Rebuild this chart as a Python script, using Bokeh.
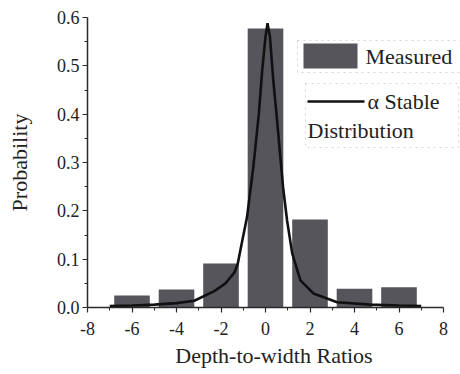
from bokeh.plotting import figure
from bokeh.models import (Range1d, FixedTicker, BoxAnnotation, CustomJSTickFormatter)
from bokeh.core.properties import value
from bokeh.embed import file_html
from bokeh.resources import INLINE

# ---- data ----
bin_centers = [-6, -4, -2, 0, 2, 4, 6]
measured = [0.025, 0.037, 0.091, 0.577, 0.182, 0.039, 0.042]
bar_width = 1.6

curve_x = [-7, -6, -5, -4, -3.2, -2.3, -1.8, -1.4, -1.25, -1.1, -0.83, -0.55,
           -0.3, -0.15, 0.0, 0.09, 0.2, 0.35, 0.52, 0.65, 0.79, 0.97, 1.2,
           1.57, 2.16, 3.22, 4.72, 6, 7]
curve_y = [0.003, 0.004, 0.006, 0.009, 0.014, 0.034, 0.05, 0.072, 0.09, 0.125,
           0.187, 0.29, 0.40, 0.49, 0.56, 0.588, 0.56, 0.47, 0.387, 0.32,
           0.249, 0.18, 0.112, 0.056, 0.029, 0.011, 0.006, 0.004, 0.003]

x_ticks = [-8, -6, -4, -2, 0, 2, 4, 6, 8]
x_minor = [-7, -5, -3, -1, 1, 3, 5, 7]
y_ticks = [0.0, 0.1, 0.2, 0.3, 0.4, 0.5, 0.6]
y_minor = [0.05, 0.15, 0.25, 0.35, 0.45, 0.55]

legend_labels = ["Measured", "\u03b1 Stable", "Distribution"]

FONT = "Times New Roman"
BAR = "#55555b"

X0, X1, Y0, Y1 = -8, 8.764, 0, 0.6
FRAME_W, FRAME_H = 373, 290

def sx(px):  # frame pixel -> x data
    return X0 + px * (X1 - X0) / FRAME_W

def sy(px):  # frame pixel -> y data
    return Y0 + px * (Y1 - Y0) / FRAME_H

# frame spans to the right canvas edge so the legend boxes are not clipped;
# the x axis line itself is bounded to [-8, 8]
p = figure(width=460, height=374, output_backend="svg", toolbar_location=None,
           x_range=Range1d(X0, X1), y_range=Range1d(Y0, Y1),
           min_border_left=87, min_border_right=0, min_border_top=17,
           min_border_bottom=67)
p.outline_line_color = None
p.xgrid.visible = False
p.ygrid.visible = False
p.background_fill_color = "white"
p.border_fill_color = "white"

p.vbar(x=bin_centers, top=measured, width=bar_width, bottom=0,
       fill_color=BAR, line_color=None)
p.line(curve_x, curve_y, line_color="#111111", line_width=2.6)

for ax in (p.xaxis[0], p.yaxis[0]):
    ax.axis_line_color = "#2a2a2a"
    ax.axis_line_width = 1.5
    ax.major_tick_line_color = "#2a2a2a"
    ax.minor_tick_line_color = "#2a2a2a"
    ax.major_tick_line_width = 1.2
    ax.major_tick_in = 0
    ax.major_tick_out = 5
    ax.minor_tick_in = 0
    ax.minor_tick_out = 3
    ax.major_label_text_font = FONT
    ax.major_label_text_font_size = "18px"
    ax.major_label_text_color = "#222222"
    ax.axis_label_text_font = FONT
    ax.axis_label_text_font_size = "22px"
    ax.axis_label_text_font_style = "normal"
    ax.axis_label_text_color = "#222222"

p.xaxis[0].bounds = (-8, 8)
p.xaxis[0].ticker = FixedTicker(ticks=x_ticks, minor_ticks=x_minor)
p.yaxis[0].ticker = FixedTicker(ticks=y_ticks, minor_ticks=y_minor)
p.yaxis[0].formatter = CustomJSTickFormatter(code="return tick.toFixed(1);")
p.xaxis[0].formatter = CustomJSTickFormatter(code="return String(tick);")
p.xaxis[0].major_label_standoff = 9
p.yaxis[0].major_label_standoff = 3
p.xaxis[0].axis_label = "Depth-to-width Ratios"
p.yaxis[0].axis_label = "Probability"
p.xaxis[0].axis_label_standoff = 5
p.yaxis[0].axis_label_standoff = 22

# ---- legend (two dotted boxes), screen units relative to frame bottom-left ----
sk = dict(left_units="screen", right_units="screen",
          top_units="screen", bottom_units="screen")
box1 = BoxAnnotation(left=210, right=380, top=267, bottom=235,
                     fill_color="white", fill_alpha=1.0,
                     line_color="#777777", line_dash="dotted", line_width=1, **sk)
patch1 = BoxAnnotation(left=216, right=270, top=264, bottom=239,
                       fill_color=BAR, fill_alpha=1.0, line_color=None, **sk)
box2 = BoxAnnotation(left=218, right=371, top=224, bottom=160,
                     fill_color="white", fill_alpha=1.0,
                     line_color="#777777", line_dash="dotted", line_width=1, **sk)
line2 = BoxAnnotation(left=220, right=277, top=207.3, bottom=204.7,
                      fill_color="#111111", fill_alpha=1.0, line_color=None, **sk)
for b in (box1, patch1, box2, line2):
    p.add_layout(b)

p.text(x=[sx(278), sx(280), sx(220)], y=[sy(251), sy(206), sy(177)],
       text=legend_labels, text_font=value(FONT), text_font_size="22px",
       text_color="#222222", text_baseline="middle", text_align="left",
       level="overlay")

open("out.html", "w").write(file_html(p, INLINE))
